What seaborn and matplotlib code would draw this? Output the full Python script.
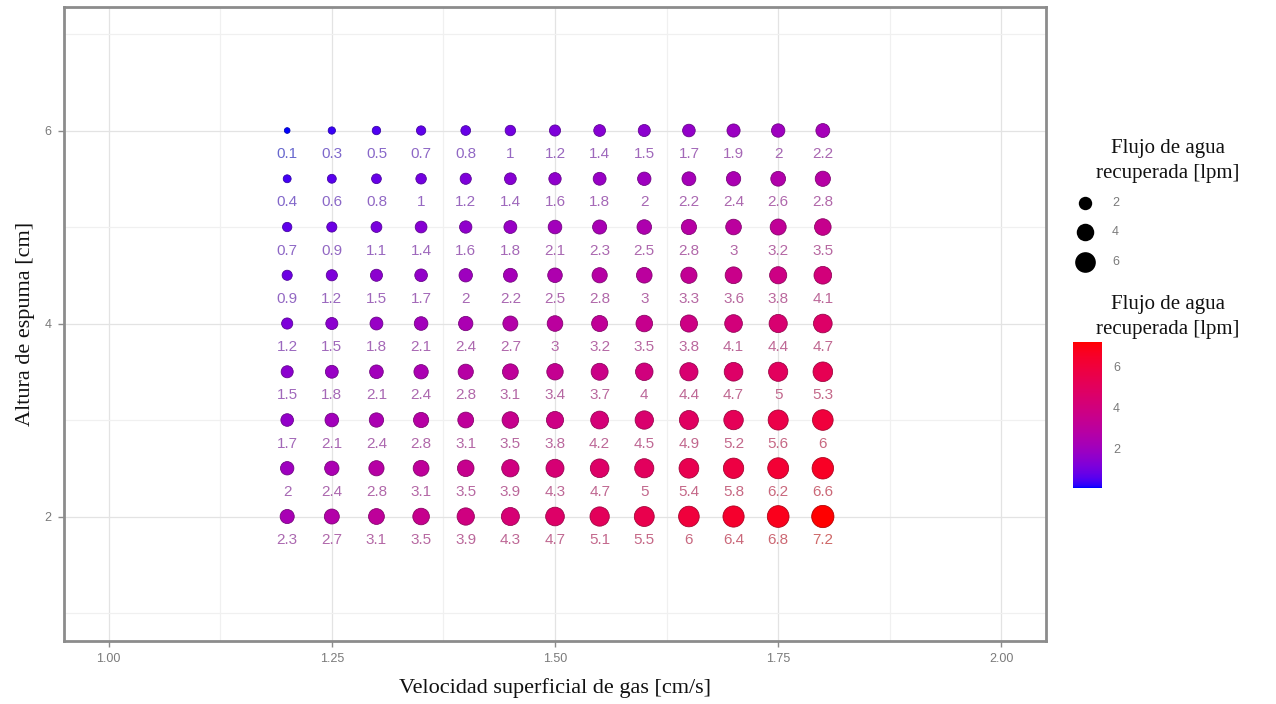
import numpy as np
import pandas as pd
import matplotlib
matplotlib.use("Agg")
import matplotlib.pyplot as plt
import seaborn as sns
from matplotlib.colors import ListedColormap, Normalize
from matplotlib.cm import ScalarMappable

# Superficial gas velocity [cm/s] (columns) and froth height [cm] (rows)
velocidad = [1.20, 1.25, 1.30, 1.35, 1.40, 1.45, 1.50, 1.55, 1.60, 1.65, 1.70, 1.75, 1.80]
altura = [6.0, 5.5, 5.0, 4.5, 4.0, 3.5, 3.0, 2.5, 2.0]

# Recovered water flow [lpm] for each froth height
flujo_h60 = [0.1, 0.3, 0.5, 0.7, 0.8, 1, 1.2, 1.4, 1.5, 1.7, 1.9, 2, 2.2]
flujo_h55 = [0.4, 0.6, 0.8, 1, 1.2, 1.4, 1.6, 1.8, 2, 2.2, 2.4, 2.6, 2.8]
flujo_h50 = [0.7, 0.9, 1.1, 1.4, 1.6, 1.8, 2.1, 2.3, 2.5, 2.8, 3, 3.2, 3.5]
flujo_h45 = [0.9, 1.2, 1.5, 1.7, 2, 2.2, 2.5, 2.8, 3, 3.3, 3.6, 3.8, 4.1]
flujo_h40 = [1.2, 1.5, 1.8, 2.1, 2.4, 2.7, 3, 3.2, 3.5, 3.8, 4.1, 4.4, 4.7]
flujo_h35 = [1.5, 1.8, 2.1, 2.4, 2.8, 3.1, 3.4, 3.7, 4, 4.4, 4.7, 5, 5.3]
flujo_h30 = [1.7, 2.1, 2.4, 2.8, 3.1, 3.5, 3.8, 4.2, 4.5, 4.9, 5.2, 5.6, 6]
flujo_h25 = [2, 2.4, 2.8, 3.1, 3.5, 3.9, 4.3, 4.7, 5, 5.4, 5.8, 6.2, 6.6]
flujo_h20 = [2.3, 2.7, 3.1, 3.5, 3.9, 4.3, 4.7, 5.1, 5.5, 6, 6.4, 6.8, 7.2]

legend_breaks = [2, 4, 6]

filas = [flujo_h60, flujo_h55, flujo_h50, flujo_h45, flujo_h40,
         flujo_h35, flujo_h30, flujo_h25, flujo_h20]
registros = []
for h, fila in zip(altura, filas):
    for v, q in zip(velocidad, fila):
        registros.append({"vel": v, "alt": h, "flujo": q})
df = pd.DataFrame(registros)


# ---- blue -> red gradient interpolated in CIE Lab space ----
_M = np.array([[0.4124, 0.3576, 0.1805],
               [0.2126, 0.7152, 0.0722],
               [0.0193, 0.1192, 0.9505]])
_WHITE = np.array([0.95047, 1.0, 1.08883])


def _srgb_to_lab(rgb):
    rgb = np.asarray(rgb, float)
    lin = np.where(rgb <= 0.04045, rgb / 12.92, ((rgb + 0.055) / 1.055) ** 2.4)
    xyz = _M @ lin / _WHITE
    f = np.where(xyz > 0.008856, np.cbrt(xyz), 7.787 * xyz + 16 / 116)
    return np.array([116 * f[1] - 16, 500 * (f[0] - f[1]), 200 * (f[1] - f[2])])


def _lab_to_srgb(lab):
    L, a, b = lab
    fy = (L + 16) / 116
    f = np.array([fy + a / 500, fy, fy - b / 200])
    xyz = np.where(f ** 3 > 0.008856, f ** 3, (f - 16 / 116) / 7.787) * _WHITE
    lin = np.clip(np.linalg.inv(_M) @ xyz, 0, 1)
    rgb = np.where(lin <= 0.0031308, 12.92 * lin, 1.055 * lin ** (1 / 2.4) - 0.055)
    return np.clip(rgb, 0, 1)


lab_lo = _srgb_to_lab([0, 0, 1])
lab_hi = _srgb_to_lab([1, 0, 0])
grad = [_lab_to_srgb(lab_lo + t * (lab_hi - lab_lo)) for t in np.linspace(0, 1, 256)]
cmap = ListedColormap(grad)
vmin, vmax = df["flujo"].min(), df["flujo"].max()
norm = Normalize(vmin=vmin, vmax=vmax)

DPI = 100


def diam_px(q):
    # point diameter grows with the square root of the value (area scale)
    return 3.5 + 7.0 * np.sqrt(q)


def area_pt2(q):
    return (diam_px(q) * 72 / DPI) ** 2


size_map = {q: area_pt2(q) for q in sorted(df["flujo"].unique())}

sns.set_theme(style="whitegrid")
fig = plt.figure(figsize=(12.76, 7.04), dpi=DPI)
ax = fig.add_axes([64 / 1276, 1 - 641 / 704, (1046 - 64) / 1276, (641 - 7) / 704])

sns.scatterplot(data=df, x="vel", y="alt", hue="flujo", size="flujo",
                palette=cmap, hue_norm=norm, sizes=size_map,
                linewidth=0, legend=False, ax=ax, zorder=3)
# slightly darker rim around each point
pts = ax.collections[-1]
fc = pts.get_facecolors()
edge = fc.copy()
edge[:, :3] = fc[:, :3] * 0.68
pts.set_edgecolors(edge)
pts.set_linewidths(0.55)

gris = np.array([0.52, 0.52, 0.52])
for _, r in df.iterrows():
    c = np.array(cmap(norm(r["flujo"]))[:3])
    c = 0.5 * c + 0.5 * gris
    c = 0.8 * c + 0.2 * np.ones(3)
    ax.text(r["vel"], r["alt"] - 0.245, f"{r['flujo']:g}", color=c,
            ha="center", va="center", fontsize=11,
            family=["Liberation Sans", "DejaVu Sans"], zorder=4)

ax.set_xlim(0.95, 2.05)
ax.set_ylim(0.71, 7.28)
ax.set_xticks([1.00, 1.25, 1.50, 1.75, 2.00])
ax.set_xticklabels(["1.00", "1.25", "1.50", "1.75", "2.00"])
ax.set_xticks([1.125, 1.375, 1.625, 1.875], minor=True)
ax.set_yticks([2, 4, 6])
ax.set_yticklabels(["2", "4", "6"])
ax.set_yticks([1, 3, 5, 7], minor=True)

ax.set_facecolor("white")
ax.grid(which="major", color="#E3E3E3", linewidth=0.9)
ax.grid(which="minor", color="#F0F0F0", linewidth=0.9)
ax.set_axisbelow(True)
for s in ax.spines.values():
    s.set_color("#8C8C8C")
    s.set_linewidth(2.0)

ax.tick_params(axis="both", which="major", length=4, width=1.0, color="#8C8C8C",
               labelcolor="#7A7A7A", labelsize=9, pad=5, bottom=True, left=True)
ax.tick_params(axis="both", which="minor", length=0)
for lbl in ax.get_xticklabels() + ax.get_yticklabels():
    lbl.set_family(["Liberation Sans Narrow", "Liberation Sans", "DejaVu Sans"])

serif = ["Liberation Serif", "DejaVu Serif"]
ax.set_xlabel("Velocidad superficial de gas [cm/s]", family=serif, fontsize=16,
              color="#111111", labelpad=9)
ax.set_ylabel("Altura de espuma [cm]", family=serif, fontsize=16,
              color="#111111", labelpad=7)

# ---- legends drawn in figure pixel coordinates ----
leg = fig.add_axes([0, 0, 1, 1], facecolor="none")
leg.set_xlim(0, 1276)
leg.set_ylim(704, 0)
leg.axis("off")

titulo = "Flujo de agua\nrecuperada [lpm]"
leg.text(1168, 161, titulo, ha="center", va="center", family=serif,
         fontsize=15, linespacing=1.45, color="#111111")
for q, yy in zip(legend_breaks, [203, 232, 262]):
    leg.scatter([1085], [yy], s=area_pt2(q), color="black", linewidth=0)
    leg.text(1112, yy, f"{q}", ha="left", va="center", fontsize=9,
             color="#7A7A7A", family=["Liberation Sans", "DejaVu Sans"])

leg.text(1168, 317, titulo, ha="center", va="center", family=serif,
         fontsize=15, linespacing=1.45, color="#111111")

cax = fig.add_axes([1073 / 1276, 1 - 488 / 704, 29 / 1276, 146 / 704])
cb = fig.colorbar(ScalarMappable(norm=norm, cmap=cmap), cax=cax)
cb.outline.set_visible(False)
cb.set_ticks(legend_breaks)
cb.set_ticklabels([str(b) for b in legend_breaks])
cax.tick_params(axis="y", direction="in", length=5, width=1.0, color="white",
                labelcolor="#7A7A7A", labelsize=9, pad=8, left=True, right=True)
for lbl in cax.get_yticklabels():
    lbl.set_family(["Liberation Sans", "DejaVu Sans"])

fig.savefig("out.png", dpi=DPI, facecolor="white")
